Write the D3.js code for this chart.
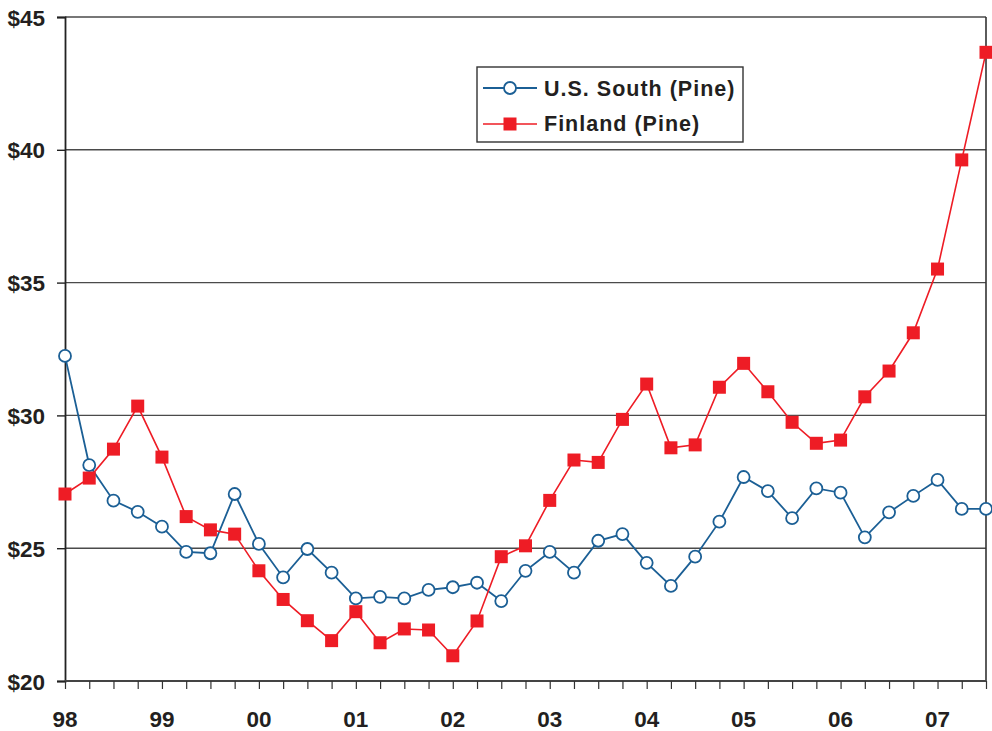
<!DOCTYPE html>
<html>
<head>
<meta charset="utf-8">
<script src="https://cdn.jsdelivr.net/npm/d3@7"></script>
<style>
  html, body { margin: 0; padding: 0; background: #fff; }
  svg { display: block; font-family: "Liberation Sans", Arial, sans-serif; }
</style>
</head>
<body>
<svg id="chart" width="992" height="731"></svg>
<script>
// Quarterly prices, 1998 Q1 – 2007 Q3
const yearLabels = ["98", "99", "00", "01", "02", "03", "04", "05", "06", "07"];
const yTicks = [20, 25, 30, 35, 40, 45];
const usSouth = [32.24, 28.13, 26.79, 26.37, 25.81, 24.86, 24.81, 27.04, 25.16, 23.90,
                 24.97, 24.08, 23.11, 23.17, 23.11, 23.43, 23.53, 23.70, 23.01, 24.15,
                 24.86, 24.08, 25.28, 25.53, 24.45, 23.58, 24.68, 26.00, 27.68, 27.15,
                 26.13, 27.25, 27.09, 25.41, 26.35, 26.97, 27.57, 26.48, 26.48];
const finland = [27.04, 27.64, 28.73, 30.35, 28.43, 26.19, 25.69, 25.53, 24.15, 23.07,
                 22.27, 21.52, 22.61, 21.44, 21.96, 21.92, 20.95, 22.26, 24.68, 25.09,
                 26.80, 28.32, 28.23, 29.85, 31.18, 28.78, 28.89, 31.06, 31.96, 30.89,
                 29.74, 28.95, 29.07, 30.70, 31.67, 33.11, 35.51, 39.62, 43.67];
const seriesNames = ["U.S. South (Pine)", "Finland (Pine)"];

(function () {
const blue = "#1b5f95", red = "#ee1c25";
const svg = d3.select("#chart");
const pL = 65, pR = 986, pT = 17, pB = 681;

const x = d3.scaleLinear().domain([0, usSouth.length - 1]).range([pL, pR]);
const y = d3.scaleLinear().domain([20, 45]).range([pB, pT]);

// gridlines
svg.append("g").selectAll("line").data(yTicks.filter(d => d > 20)).join("line")
  .attr("x1", pL).attr("x2", pR)
  .attr("y1", d => y(d)).attr("y2", d => y(d))
  .attr("stroke", "#4a4a4a").attr("stroke-width", 1.4);

// right border
svg.append("line").attr("x1", pR).attr("x2", pR).attr("y1", pT).attr("y2", pB)
  .attr("stroke", "#333").attr("stroke-width", 1.6);

// y axis
const yAxis = d3.axisLeft(y).tickValues(yTicks).tickSize(8).tickPadding(4)
  .tickFormat(d => "$" + d);
const gy = svg.append("g").attr("transform", `translate(${pL},0)`).call(yAxis);
gy.select(".domain").attr("stroke", "#222").attr("stroke-width", 1.8);
gy.selectAll(".tick line").attr("stroke", "#222").attr("stroke-width", 1.4);
gy.selectAll("text").attr("font-size", 22.5).attr("font-weight", "bold").attr("fill", "#231f20")
  .attr("x", -20).attr("dy", "0.36em");

// x axis with quarterly ticks
const xAxis = d3.axisBottom(x).tickValues(d3.range(usSouth.length)).tickSize(8).tickFormat("");
const gx = svg.append("g").attr("transform", `translate(0,${pB})`).call(xAxis);
gx.select(".domain").attr("stroke", "#444").attr("stroke-width", 1.8).attr("d", `M${pL},0H${pR}`);
gx.selectAll(".tick line").attr("stroke", "#333").attr("stroke-width", 1.2);
svg.append("g").selectAll("text").data(yearLabels).join("text")
  .attr("x", (d, i) => x(i * 4)).attr("y", 727)
  .attr("text-anchor", "middle").attr("font-size", 22.5).attr("font-weight", "bold")
  .attr("fill", "#231f20").text(d => d);

const line = d3.line().x((d, i) => x(i)).y(d => y(d));

// US South
svg.append("path").datum(usSouth).attr("d", line).attr("fill", "none")
  .attr("stroke", blue).attr("stroke-width", 1.8);
svg.append("g").selectAll("circle").data(usSouth).join("circle")
  .attr("cx", (d, i) => x(i)).attr("cy", d => y(d)).attr("r", 6)
  .attr("fill", "#fff").attr("stroke", blue).attr("stroke-width", 1.8);

// Finland
svg.append("path").datum(finland).attr("d", line).attr("fill", "none")
  .attr("stroke", red).attr("stroke-width", 1.6);
const sq = 13;
svg.append("g").selectAll("rect").data(finland).join("rect")
  .attr("x", (d, i) => x(i) - sq / 2).attr("y", d => y(d) - sq / 2)
  .attr("width", sq).attr("height", sq).attr("fill", red);

// legend
const lg = svg.append("g");
lg.append("rect").attr("x", 477).attr("y", 67).attr("width", 266).attr("height", 75)
  .attr("fill", "#fff").attr("stroke", "#333").attr("stroke-width", 1.4);
const rows = [88, 124];
lg.append("line").attr("x1", 483).attr("x2", 537).attr("y1", rows[0]).attr("y2", rows[0])
  .attr("stroke", blue).attr("stroke-width", 1.8);
lg.append("circle").attr("cx", 510).attr("cy", rows[0]).attr("r", 6)
  .attr("fill", "#fff").attr("stroke", blue).attr("stroke-width", 1.8);
lg.append("line").attr("x1", 483).attr("x2", 537).attr("y1", rows[1]).attr("y2", rows[1])
  .attr("stroke", red).attr("stroke-width", 1.6);
lg.append("rect").attr("x", 510 - sq / 2).attr("y", rows[1] - sq / 2)
  .attr("width", sq).attr("height", sq).attr("fill", red);
lg.selectAll("text").data(seriesNames).join("text")
  .attr("x", 544).attr("y", (d, i) => [96, 131][i])
  .attr("font-size", 21.5).attr("font-weight", "bold").attr("letter-spacing", 1)
  .attr("fill", "#231f20")
  .text(d => d);
})();
</script>
</body>
</html>
